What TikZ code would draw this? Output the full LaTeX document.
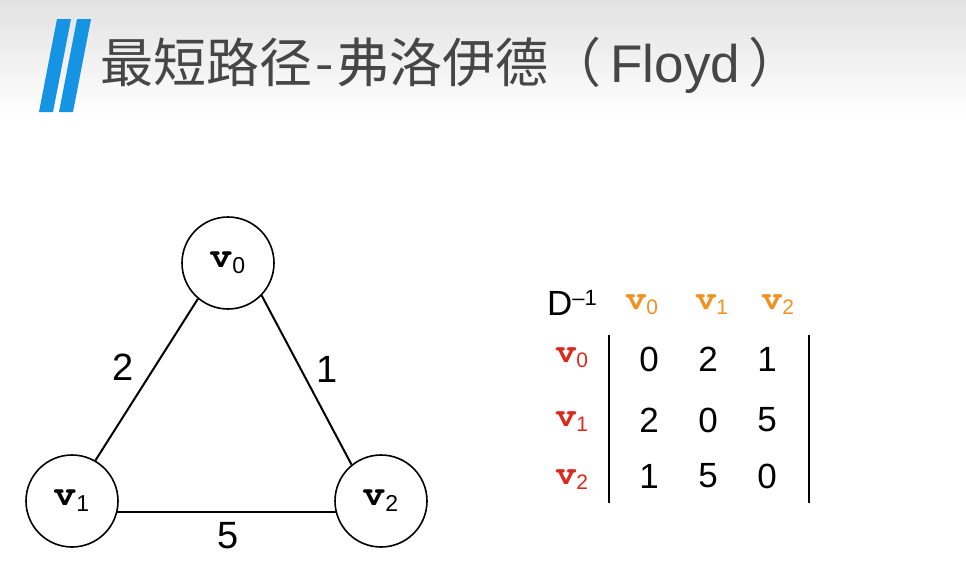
\documentclass[tikz,border=0pt]{standalone}
\usepackage{fontspec}
\setmainfont{Liberation Sans}
\newfontfamily\cjk{Noto Sans CJK SC}
\newfontfamily\vfont{texgyrecursor-bold.otf}
\usepackage{tikz}
\usepackage{color}
\definecolor{barblue}{RGB}{20,148,226}
\definecolor{titlegray}{RGB}{70,70,70}
\definecolor{headorange}{RGB}{240,146,32}
\definecolor{rowred}{RGB}{218,42,30}
% vertex names: graph size and matrix size
\newcommand{\gv}[1]{{\fontsize{36}{36}\selectfont\vfont v}\raisebox{-6pt}{\fontsize{23}{23}\selectfont #1}}
\newcommand{\mv}[1]{{\fontsize{34}{34}\selectfont\vfont v}\raisebox{-5pt}{\fontsize{21}{21}\selectfont #1}}
\tikzset{
  vertex/.style={circle, draw, line width=1.6, minimum size=92, inner sep=0pt},
  edge/.style={line width=2},
  weight/.style={inner sep=0pt, font=\fontsize{38}{38}\selectfont},
  entry/.style={inner sep=0pt, font=\fontsize{35}{35}\selectfont},
}

\begin{document}
\begin{tikzpicture}[x=1pt,y=1pt,yscale=-1,xscale=1]
\useasboundingbox (0,0) rectangle (966,581);

%Background
\fill[white] (0,0) rectangle (966,581);
\shade[top color={rgb,255:red,226;green,226;blue,226}, bottom color=white] (0,0) rectangle (966,116);

%Title bars
\fill[barblue] (57,19) -- (71,19) -- (53,112) -- (39,112) -- cycle;
\fill[barblue] (77,19) -- (91,19) -- (73,112) -- (59,112) -- cycle;
% Title Node
\node (title) [anchor=base west, inner sep=0pt, text=titlegray] at (100,82) {\fontsize{53}{53}\selectfont{\cjk 最短路径\hspace{3pt}-\hspace{3pt}弗洛伊德（}\hspace{9pt}Floyd\hspace{8pt}{\cjk ）}};

%Graph
\node (v0) [vertex] at (228,263) {\gv{0}};
\node (v1) [vertex] at (72,501) {\gv{1}};
\node (v2) [vertex] at (381,501) {\gv{2}};
\draw [edge] (v0.230) -- (v1.60);
\draw [edge] (v0.-44) -- (v2.129);
\draw [edge] (v1.-14) -- (v2.194);
% Text Node
\node (w01) [weight] at (123,367) {2};
% Text Node
\node (w02) [weight] at (327,369) {1};
% Text Node
\node (w12) [weight] at (228,536) {5};

%Matrix
\node (dname) [inner sep=0pt] at (572,302.5) {\fontsize{35}{35}\selectfont D\raisebox{10pt}{\fontsize{22}{22}\selectfont –1}};
\node (c0) [inner sep=0pt, text=headorange] at (642,305) {\mv{0}};
\node (c1) [inner sep=0pt, text=headorange] at (712,305) {\mv{1}};
\node (c2) [inner sep=0pt, text=headorange] at (778,305) {\mv{2}};
\node (r0) [inner sep=0pt, text=rowred] at (572,358) {\mv{0}};
\node (r1) [inner sep=0pt, text=rowred] at (572,422) {\mv{1}};
\node (r2) [inner sep=0pt, text=rowred] at (572,480) {\mv{2}};
\draw [line width=1.8] (609,335) -- (609,503);
\draw [line width=1.8] (809,335) -- (809,503);
% Entries
\node (m00) [entry] at (649,359.5) {0};
\node (m01) [entry] at (708,359.5) {2};
\node (m02) [entry] at (767,359.5) {1};
\node (m10) [entry] at (649,420) {2};
\node (m11) [entry] at (708,420) {0};
\node (m12) [entry] at (767,420) {5};
\node (m20) [entry] at (649,476) {1};
\node (m21) [entry] at (708,476) {5};
\node (m22) [entry] at (767,476) {0};

\end{tikzpicture}
\end{document}
